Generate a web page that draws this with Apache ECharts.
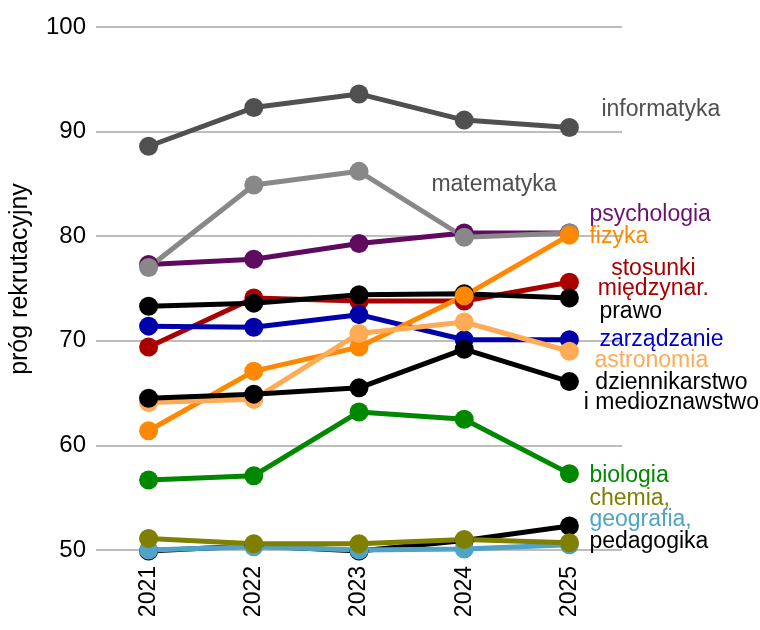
<!DOCTYPE html>
<html>
<head>
<meta charset="utf-8">
<script src="https://cdn.jsdelivr.net/npm/echarts@6/dist/echarts.min.js"></script>
<style>html,body{margin:0;padding:0;background:#fff}#c{width:760px;height:630px}</style>
</head>
<body>
<div id="c"></div>
<script>
const years = ['2021','2022','2023','2024','2025'];
const yTicks = [50, 60, 70, 80, 90, 100];

const informatyka   = [88.6, 92.3, 93.6, 91.1, 90.4];
const psychologia   = [77.3, 77.8, 79.3, 80.3, 80.3];
const matematyka    = [77.0, 84.9, 86.2, 79.9, 80.3];
const stosunki      = [69.4, 74.1, 73.8, 73.8, 75.6];
const prawo         = [73.3, 73.6, 74.4, 74.5, 74.1];
const zarzadzanie   = [71.4, 71.3, 72.5, 70.1, 70.1];
const fizyka        = [61.4, 67.1, 69.4, 74.3, 80.1];
const astronomia    = [64.1, 64.4, 70.7, 71.8, 69.0];
const dziennikarstwo= [64.5, 64.9, 65.5, 69.2, 66.1];
const biologia      = [56.7, 57.1, 63.2, 62.5, 57.3];
const pedagogika    = [49.9, 50.4, 49.9, 50.9, 52.3];
const geografia     = [50.0, 50.3, 50.0, 50.1, 50.5];
const chemia        = [51.1, 50.6, 50.6, 51.0, 50.7];

const seriesDefs = [
  {name:'informatyka', data:informatyka, color:'#505050', text:'informatyka', label:{offset:[24,-18], color:'#505050'}},
  {name:'psychologia', data:psychologia, color:'#5e0a5e', text:'psychologia', label:{offset:[12,-18], color:'#6a1270'}},
  {name:'matematyka', data:matematyka, color:'#888888', text:'matematyka', label:{offset:[-146,-48], color:'#505050'}},
  {name:'stosunki międzynar.', data:stosunki, color:'#aa0000', text:'stosunki\nmiędzynar.', label:{offset:[76,-4], color:'#aa0000', align:'center'}},
  {name:'prawo', data:prawo, color:'#000000', text:'prawo', label:{offset:[22,14], color:'#000000'}},
  {name:'zarządzanie', data:zarzadzanie, color:'#0000aa', text:'zarządzanie', label:{offset:[22,0], color:'#0000cc'}},
  {name:'fizyka', data:fizyka, color:'#ff8800', text:'fizyka', label:{offset:[12,2], color:'#ff8800'}},
  {name:'astronomia', data:astronomia, color:'#ffaa55', text:'astronomia', label:{offset:[17,9], color:'#ffaa55'}},
  {name:'dziennikarstwo i medioznawstwo', data:dziennikarstwo, color:'#000000', text:'dziennikarstwo\ni medioznawstwo', label:{offset:[94,11], color:'#000000', align:'center'}},
  {name:'biologia', data:biologia, color:'#008800', text:'biologia', label:{offset:[12,2], color:'#008800'}},
  {name:'pedagogika', data:pedagogika, color:'#000000', text:'pedagogika', label:{offset:[12,16], color:'#000000'}},
  {name:'geografia', data:geografia, color:'#4fa3c4', text:'geografia,', label:{offset:[12,-25], color:'#4fa3c4'}},
  {name:'chemia', data:chemia, color:'#808000', text:'chemia,', label:{offset:[12,-44], color:'#808000'}}
];

const FONT = '"Liberation Sans", Arial, Helvetica, sans-serif';

const chart = echarts.init(document.getElementById('c'), null, {renderer:'canvas'});
chart.setOption({
  animation: false,
  backgroundColor: '#ffffff',
  textStyle: {fontFamily: FONT},
  grid: {left: 96, right: 138, top: 27, bottom: 80, containLabel: false},
  xAxis: {
    type: 'category',
    data: years,
    boundaryGap: true,
    axisLine: {show: false},
    axisTick: {show: false},
    axisLabel: {rotate: 90, fontSize: 23, color: '#000', margin: 16, fontFamily: FONT},
    splitLine: {show: false}
  },
  yAxis: {
    type: 'value',
    min: yTicks[0],
    max: yTicks[yTicks.length - 1],
    interval: 10,
    name: 'próg rekrutacyjny',
    nameLocation: 'middle',
    nameGap: 63,
    nameTextStyle: {fontSize: 25, color: '#000', fontFamily: FONT, padding: [0, 0, 0, 19]},
    axisLine: {show: false},
    axisTick: {show: false},
    axisLabel: {fontSize: 24, color: '#000', margin: 10, fontFamily: FONT},
    splitLine: {show: true, lineStyle: {color: '#bdbdbd', width: 2}}
  },
  series: seriesDefs.map(s => ({
    name: s.name,
    type: 'line',
    data: s.data,
    clip: false,
    symbol: 'circle',
    symbolSize: 19,
    color: s.color,
    lineStyle: {width: 5, color: s.color},
    itemStyle: {color: s.color},
    emphasis: {disabled: true},
    endLabel: {
      show: true,
      formatter: s.text,
      offset: s.label.offset,
      color: s.label.color,
      align: s.label.align || 'left',
      fontSize: 23,
      lineHeight: 20,
      fontFamily: FONT
    }
  }))
});
</script>
</body>
</html>
